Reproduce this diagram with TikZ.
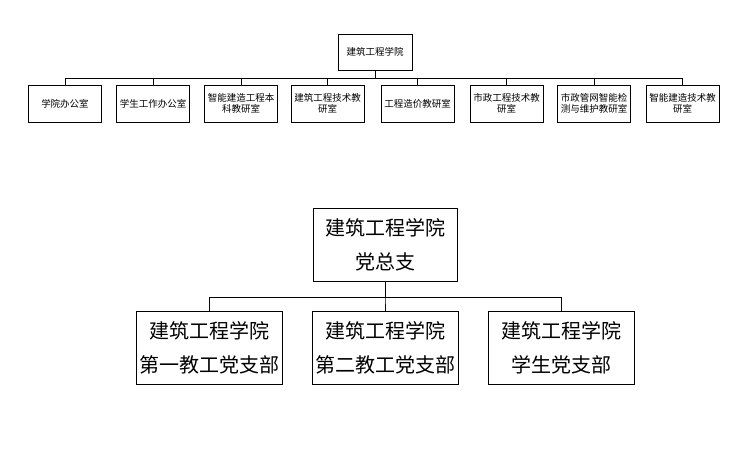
\documentclass[tikz,border=0pt]{standalone}
\usepackage{fontspec}
\setmainfont{Noto Sans CJK SC}
\usetikzlibrary{positioning}
\tikzset{
  dept/.style={draw, line width=0.8pt, minimum width=73pt, minimum height=37pt,
    inner sep=1pt, align=center, font=\fontsize{9.5}{11}\selectfont},
  party/.style={draw, line width=0.8pt, minimum width=146pt, minimum height=73pt,
    inner sep=1pt, align=center, font=\fontsize{20}{34}\selectfont},
  link/.style={line width=0.8pt}
}
\begin{document}
\begin{tikzpicture}[x=1pt, y=-1pt]
  \useasboundingbox (0,0) rectangle (750,470);
  % college and its offices
  \node[dept, minimum width=74pt, minimum height=36pt] (school) at (375,52) {建筑工程学院};
  \node[dept] (d1) at (65,103.5) {学院办公室};
  \node[dept] (d2) at (153,103.5) {学生工作办公室};
  \node[dept] (d3) at (241,103.5) {智能建造工程本\\科教研室};
  \node[dept] (d4) at (327.5,103.5) {建筑工程技术教\\研室};
  \node[dept] (d5) at (417.5,103.5) {工程造价教研室};
  \node[dept] (d6) at (506.5,103.5) {市政工程技术教\\研室};
  \node[dept] (d7) at (594,103.5) {市政管网智能检\\测与维护教研室};
  \node[dept] (d8) at (682.5,103.5) {智能建造技术教\\研室};
  \coordinate (bus) at (375,78);
  \foreach \n in {d1,d2,d3,d4,d5,d6,d7,d8}
    \draw[link] (school.south) -- (school.south |- bus) -| (\n.north);
  % party branches
  \node[party, minimum width=144pt] (zzb) at (385,244.5) {建筑工程学院\\党总支};
  \node[party] (p1) at (209,348) {建筑工程学院\\第一教工党支部};
  \node[party] (p2) at (385,348) {建筑工程学院\\第二教工党支部};
  \node[party] (p3) at (561.5,348) {建筑工程学院\\学生党支部};
  \coordinate (pbus) at (385,297);
  \foreach \n in {p1,p2,p3}
    \draw[link] (zzb.south) -- (zzb.south |- pbus) -| (\n.north);
\end{tikzpicture}
\end{document}
